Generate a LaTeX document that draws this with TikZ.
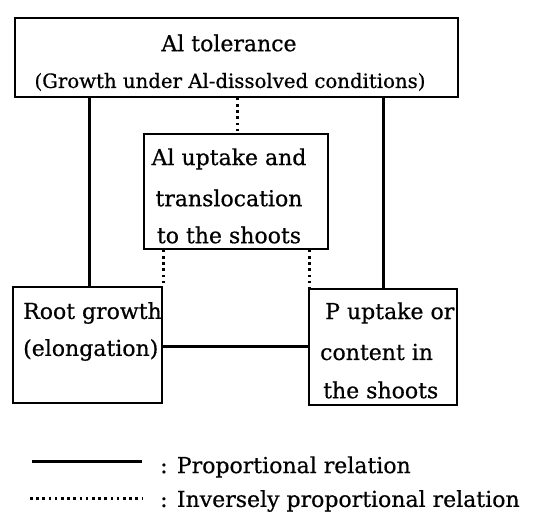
\documentclass[tikz,border=0pt]{standalone}
\usepackage{fontspec}
\setmainfont{DejaVu Serif}[UprightFeatures={FakeBold=0.6}]
\begin{document}
\begin{tikzpicture}[x=1pt,y=-1pt,
  box/.style={draw,line width=1.4pt,rectangle,inner sep=0pt},
  txt/.style={inner sep=0pt,font=\fontsize{22}{26}\selectfont},
  solidrel/.style={line width=3pt},
  dotrel/.style={line width=3pt,dash pattern=on 2.6pt off 3.6pt}]
\useasboundingbox (0,0) rectangle (546,517);
% boxes
\node[box,minimum width=443pt,minimum height=79pt] (top) at (236.5,57.5) {};
\node[box,minimum width=184pt,minimum height=115pt] (mid) at (236,191.5) {};
\node[box,minimum width=149pt,minimum height=116pt] (left) at (87.5,345) {};
\node[box,minimum width=148pt,minimum height=116pt] (right) at (383,347) {};
% texts
\node[txt] (t1) at (229,43) {Al tolerance};
\node[txt,font=\fontsize{19.7}{24}\selectfont] (t2) at (230,82) {(Growth under Al-dissolved conditions)};
\node[txt] (m1) at (229,159) {Al uptake and};
\node[txt] (m2) at (229,198) {translocation};
\node[txt] (m3) at (229,235) {to the shoots};
\node[txt,anchor=west] (l1) at (23,313) {Root growth};
\node[txt,anchor=west] (l2) at (23,350) {(elongation)};
\node[txt,anchor=west] (r1) at (325,313) {P uptake or};
\node[txt,anchor=west] (r2) at (320,352) {content in};
\node[txt,anchor=west] (r3) at (323,390) {the shoots};
% connectors
\draw[solidrel] (top.south -| 89,0) -- (left.north -| 89,0);
\draw[solidrel] (top.south -| 383,0) -- (right.north -| 383,0);
\draw[dotrel] (top.south -| 237,0) -- (mid.north -| 237,0);
\draw[dotrel] (mid.south -| 163,0) -- (left.north -| 163,0);
\draw[dotrel] (mid.south -| 309,0) -- (right.north -| 309,0);
\draw[solidrel] (left.east |- 0,346) -- (right.west |- 0,346);
% legend
\coordinate (ls1) at (32,461); \coordinate (ls2) at (142,461);
\coordinate (ld1) at (30,498); \coordinate (ld2) at (143,498);
\draw[solidrel] (ls1) -- (ls2);
\draw[dotrel] (ld1) -- (ld2);
\node[txt,anchor=west] (lg1) at (160,467) {: Proportional relation};
\node[txt,anchor=west] (lg2) at (160,501) {: Inversely proportional relation};
\end{tikzpicture}
\end{document}
